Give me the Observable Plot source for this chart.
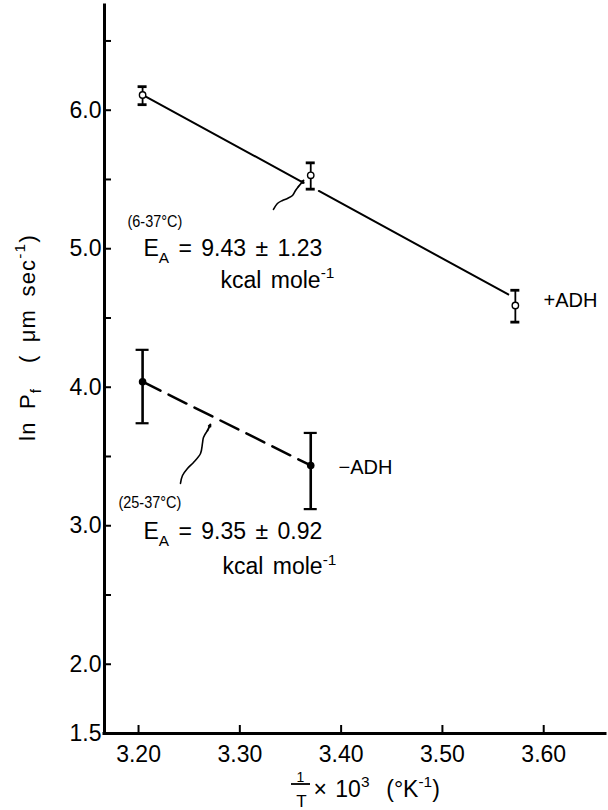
<!DOCTYPE html>
<html><head><meta charset="utf-8">
<script src="https://cdn.jsdelivr.net/npm/d3@7"></script>
<script src="https://cdn.jsdelivr.net/npm/@observablehq/plot@0.6"></script>
<style>body{margin:0;background:#fff;} svg{display:block}</style>
</head><body><div id="chart"></div>
<script>
// ---- data ----
const plusInvT  = [3.204, 3.370, 3.572];
const plusLnPf  = [6.11, 5.53, 4.59];
const plusErrLo = [6.04, 5.43, 4.47];
const plusErrHi = [6.17, 5.62, 4.70];

const minusInvT  = [3.204, 3.370];
const minusLnPf  = [4.04, 3.435];
const minusErrLo = [3.74, 3.12];
const minusErrHi = [4.27, 3.67];

// fitted regression line for +ADH (broken where the arrow points)
const plusFitX   = [3.204, 3.363, 3.378, 3.565];
const plusFitY   = [6.11, 5.476, 5.417, 4.67];
const plusFitSeg = [0, 0, 1, 1];

const xTicks      = [3.20, 3.30, 3.40, 3.50, 3.60];
const yTickLabels = [1.5, 2.0, 3.0, 4.0, 5.0, 6.0];
const yTicks      = [2.0, 2.5, 3.0, 3.5, 4.0, 4.5, 5.0, 5.5, 6.0, 6.5];
const xDomain = [3.1664, 3.661];
const yDomain = [1.5, 6.756];

// annotations
const rangeLabels = ["(6-37°C)", "(25-37°C)"];
const rangeX = [3.1891, 3.1802];
const rangeY = [5.1534, 3.1245];
const eqLabels = ["E_{A} = 9.43 ± 1.23", "kcal mole^{-1}", "E_{A} = 9.35 ± 0.92", "kcal mole^{-1}"];
const eqX = [3.2049, 3.2809, 3.2049, 3.2829];
const eqY = [4.944, 4.720, 2.9007, 2.648];
const seriesLabels = ["+ADH", "\u2212ADH"];
const seriesX = [3.5998, 3.3974];
const seriesY = [4.576, 3.370];

// wavy pointer arrows
const arrow1X = [3.3332, 3.3371, 3.3421, 3.3470, 3.3520, 3.3550, 3.3579, 3.3629];
const arrow1Y = [5.2834, 5.3267, 5.3484, 5.3628, 5.3845, 5.4206, 5.4495, 5.4928];
const arrow2X = [3.2414, 3.2434, 3.2483, 3.2543, 3.2612, 3.2631, 3.2641, 3.2681, 3.2710];
const arrow2Y = [3.3051, 3.3628, 3.4134, 3.4567, 3.5217, 3.5939, 3.6372, 3.6877, 3.7310];

// ---- build tables ----
const plus = plusInvT.map((x, i) => ({x, y: plusLnPf[i], lo: plusErrLo[i], hi: plusErrHi[i]}));
const minus = minusInvT.map((x, i) => ({x, y: minusLnPf[i], lo: minusErrLo[i], hi: minusErrHi[i]}));
const fit = plusFitX.map((x, i) => ({x, y: plusFitY[i], s: plusFitSeg[i]}));
const ranges = rangeLabels.map((t, i) => ({t, x: rangeX[i], y: rangeY[i]}));
const eqs = eqLabels.map((t, i) => ({t, x: eqX[i], y: eqY[i]}));
const series = seriesLabels.map((t, i) => ({t, x: seriesX[i], y: seriesY[i]}));
const arrowPts = [
  ...arrow1X.slice(0, -1).map((x, i) => ({x, y: arrow1Y[i], a: 1})),
  ...arrow2X.slice(0, -1).map((x, i) => ({x, y: arrow2Y[i], a: 2}))
];
const heads = [
  {x1: arrow1X.at(-2), y1: arrow1Y.at(-2), x2: arrow1X.at(-1), y2: arrow1Y.at(-1)},
  {x1: arrow2X.at(-2), y1: arrow2Y.at(-2), x2: arrow2X.at(-1), y2: arrow2Y.at(-1)}
];

const W = 608, H = 810, mL = 104, mR = 3, mT = 5, mB = 77;
const frameW = W - mL - mR, frameH = H - mT - mB;
const cx = mL + frameW / 2;
const font = "'Liberation Sans', Arial, Helvetica, sans-serif";
// pixel -> data helpers for the fraction bar of the x title
const xFromPx = px => xDomain[0] + (px - mL) / frameW * (xDomain[1] - xDomain[0]);
const yFromPx = py => yDomain[0] + (mT + frameH - py) / frameH * (yDomain[1] - yDomain[0]);

const svg = Plot.plot({
  width: W, height: H,
  marginLeft: mL, marginRight: mR, marginTop: mT, marginBottom: mB,
  style: {fontFamily: font, fontSize: "23px", color: "#000", background: "#fff"},
  x: {domain: xDomain, label: null},
  y: {domain: yDomain, label: null},
  marks: [
    // axis lines
    Plot.ruleX([xDomain[0]], {stroke: "#000", strokeWidth: 3, strokeLinecap: "square"}),
    Plot.ruleY([yDomain[0]], {stroke: "#000", strokeWidth: 3, strokeLinecap: "square"}),
    // inward ticks
    Plot.tickY(yTicks, {y: d => d, insetRight: frameW - 7, stroke: "#000", strokeWidth: 2}),
    Plot.tickX(xTicks, {x: d => d, insetTop: frameH - 8, stroke: "#000", strokeWidth: 2}),
    Plot.axisY({ticks: yTickLabels, tickSize: 0, tickPadding: 3, tickFormat: d3.format(".1f"), label: null, fontSize: 23}),
    Plot.axisX({ticks: xTicks, tickSize: 0, tickPadding: 12, tickFormat: d3.format(".2f"), label: null, fontSize: 23}),
    // +ADH fit line
    Plot.line(fit, {x: "x", y: "y", z: "s", stroke: "#000", strokeWidth: 2}),
    // -ADH dashed line
    Plot.line(minus, {x: "x", y: "y", stroke: "#000", strokeWidth: 2.5, strokeDasharray: "20,9"}),
    // error bars
    Plot.ruleX(plus, {x: "x", y1: "lo", y2: "hi", stroke: "#000", strokeWidth: 1.8}),
    Plot.ruleY(plus, {y: "hi", x1: "x", x2: "x", insetLeft: -4.5, insetRight: -4.5, stroke: "#000", strokeWidth: 2.8}),
    Plot.ruleY(plus, {y: "lo", x1: "x", x2: "x", insetLeft: -4.5, insetRight: -4.5, stroke: "#000", strokeWidth: 2.8}),
    Plot.ruleX(minus, {x: "x", y1: "lo", y2: "hi", stroke: "#000", strokeWidth: 2.6}),
    Plot.ruleY(minus, {y: "hi", x1: "x", x2: "x", insetLeft: -6.5, insetRight: -6.5, stroke: "#000", strokeWidth: 2.2}),
    Plot.ruleY(minus, {y: "lo", x1: "x", x2: "x", insetLeft: -6.5, insetRight: -6.5, stroke: "#000", strokeWidth: 2.2}),
    // points
    Plot.dot(plus, {x: "x", y: "y", r: 3.2, fill: "#fff", stroke: "#000", strokeWidth: 1.4}),
    Plot.dot(minus, {x: "x", y: "y", r: 3.8, fill: "#000", stroke: "none"}),
    // wavy arrows
    Plot.line(arrowPts, {x: "x", y: "y", z: "a", curve: "catmull-rom", stroke: "#000", strokeWidth: 1.6}),
    Plot.arrow(heads, {x1: "x1", y1: "y1", x2: "x2", y2: "y2", headLength: 8, headAngle: 50, stroke: "#000", strokeWidth: 1.8}),
    // annotations
    Plot.text(ranges, {x: "x", y: "y", text: "t", textAnchor: "start", lineAnchor: "bottom", fontSize: 17, fill: "#000"}),
    Plot.text(eqs, {x: "x", y: "y", text: "t", textAnchor: "start", lineAnchor: "bottom", fontSize: 23, fill: "#000"}),
    Plot.text(series, {x: "x", y: "y", text: "t", textAnchor: "start", lineAnchor: "bottom", fontSize: 20, fill: "#000"}),
    // y axis title
    Plot.text(["ln P_{f}\u00A0\u00A0(\u00A0\u03BCm sec^{-1})"], {frameAnchor: "left", dx: 27 - mL, dy: 337 - (mT + frameH / 2), rotate: -90, textAnchor: "middle", lineAnchor: "middle", fontSize: 22, fill: "#000"}),
    // x axis title: fraction 1/T, then x 10^3 (°K^-1)
    Plot.text(["1"], {frameAnchor: "bottom", dx: 300 - cx, dy: 48, textAnchor: "middle", lineAnchor: "bottom", fontSize: 14, fill: "#000"}),
    Plot.ruleY([yFromPx(783.5)], {x1: xFromPx(291), x2: xFromPx(310), stroke: "#000", strokeWidth: 1.8}),
    Plot.text(["T"], {frameAnchor: "bottom", dx: 301 - cx, dy: 73, textAnchor: "middle", lineAnchor: "bottom", fontSize: 17, fill: "#000"}),
    Plot.text(["\u00D7 10^{3}\u00A0\u00A0(°K^{-1})"], {frameAnchor: "bottom", dx: 313 - cx, dy: 63, textAnchor: "start", lineAnchor: "bottom", fontSize: 23, fill: "#000"})
  ]
});

// turn _{..} / ^{..} markers into sub/superscript tspans, and tune spacing
d3.select(svg).selectAll("text").each(function() {
  const t = this.textContent;
  const sel = d3.select(this);
  if (t.startsWith("E_{A}") || t.startsWith("kcal")) sel.attr("word-spacing", 3);
  if (t.startsWith("ln P")) sel.attr("letter-spacing", 1.2).attr("word-spacing", 5);
  if (t.startsWith("\u00D7")) sel.attr("word-spacing", 2);
  if (/^\(\d+-37°C\)$/.test(t)) {
    const tr = sel.attr("transform") || "";
    sel.attr("transform", tr + " scale(0.85,1)");
  }
  if (!/[_^]\{/.test(t)) return;
  const fs = parseFloat(getComputedStyle(this).fontSize) || 22;
  const parts = [];
  let last = 0; const re = /([_^])\{([^}]*)\}/g; let m;
  while ((m = re.exec(t))) {
    if (m.index > last) parts.push({s: t.slice(last, m.index), k: ""});
    parts.push({s: m[2], k: m[1]});
    last = re.lastIndex;
  }
  if (last < t.length) parts.push({s: t.slice(last), k: ""});
  const title = sel.select("title").node();
  sel.text(null);
  let shift = 0;
  for (const p of parts) {
    const ts = sel.append("tspan").text(p.s);
    let target = p.k === "_" ? 0.28 * fs : p.k === "^" ? -0.42 * fs : 0;
    if (target !== shift) ts.attr("dy", target - shift);
    shift = target;
    if (p.k) ts.attr("font-size", 0.7 * fs);
  }
  if (title) this.appendChild(title);
});

document.getElementById("chart").appendChild(svg);
</script>
</body></html>
